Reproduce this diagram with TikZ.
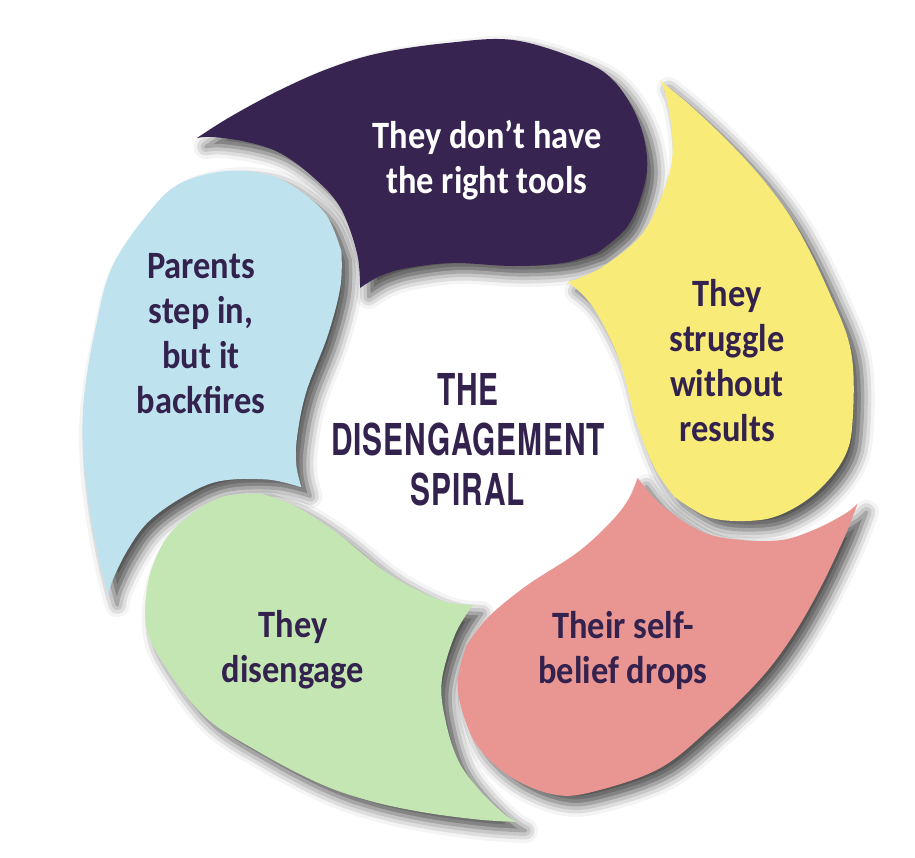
\documentclass[tikz,border=0pt]{standalone}
\usepackage{fontspec}
\newfontfamily\petalfont{Carlito}[FakeStretch=0.89]
\newfontfamily\titlefont{TeX Gyre Heros}[FakeStretch=0.68,LetterSpace=2]
\usetikzlibrary{shadows.blur}

\definecolor{petaldark}{HTML}{372450}
\definecolor{petalyellow}{HTML}{F8EB77}
\definecolor{petalpink}{HTML}{E99592}
\definecolor{petalgreen}{HTML}{C4E6B3}
\definecolor{petalblue}{HTML}{BEE3EF}
\definecolor{petaltext}{HTML}{33224D}

% one petal, drawn for the top one; the others are rotated copies
\newcommand\petalpath{plot[smooth, tension=0.6] coordinates {(-271,290) (-238,311) (-188,338) (-138,360) (-88,375) (-21,385) (45,388) (112,368) (145,348) (169,311) (179,271) (175,238) (159,201) (129,175)}
  -- plot[smooth, tension=0.6] coordinates {(129,175) (95,165) (45,162) (-15,165) (-60,160) (-88,152) (-108,140)}
  -- plot[smooth, tension=0.6] coordinates {(-108,140) (-111,175) (-128,221) (-155,251) (-188,275) (-221,286) (-255,291) (-271,290)}
  -- cycle}

\tikzset{
  petal shadow/.style={blur shadow={shadow xshift=2.5pt, shadow yshift=-2.5pt, shadow blur radius=3.5pt, shadow opacity=70}},
  petal label/.style={font=\petalfont\bfseries\fontsize{11}{12.8}\selectfont, align=center, text=petaltext},
  spiral title/.style={font=\titlefont\bfseries\fontsize{12.5}{14.2}\selectfont, align=center, text=petaltext}
}

\begin{document}
\begin{tikzpicture}[x=0.01cm, y=0.01cm]
	\useasboundingbox (-468,-429) rectangle (447,428);

	% shadows first, so that they fall only on the white
	\foreach \ang in {0,-72,-144,-216,-288}
		\path[rotate=\ang, petal shadow] \petalpath;

	% petals
	\foreach \ang/\col in {0/petaldark, -72/petalyellow, -144/petalpink, -216/petalgreen, -288/petalblue}
		\fill[rotate=\ang, \col] \petalpath;

	% labels
	\node[petal label, text=white] (tools) at (19,268) {They don’t have\\the right tools};
	\node[petal label] (struggle) at (259,67) {They\\struggle\\without\\results};
	\node[petal label] (belief) at (155,-222) {Their self-\\belief drops};
	\node[petal label] (disengage) at (-175,-222) {They\\disengage};
	\node[petal label] (parents) at (-267,94) {Parents\\step in,\\but it\\backfires};

	\node[spiral title] (title) at (0,-12) {THE\\DISENGAGEMENT\\SPIRAL};
\end{tikzpicture}
\end{document}
